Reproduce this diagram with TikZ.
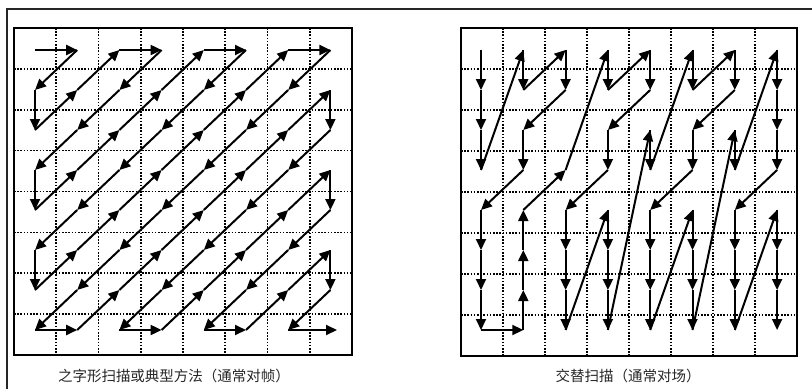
\documentclass[tikz,border=0pt]{standalone}
\usepackage{fontspec}
\newfontfamily\cjk{Noto Sans CJK SC}
\usetikzlibrary{arrows.meta}
\begin{document}
\begin{tikzpicture}[x=1pt,y=-1pt,
  frame/.style={draw=black!85, line width=1.2pt},
  gridbox/.style={draw=black, line width=2.6pt},
  dotline/.style={draw=black, line width=1.7pt, dash pattern=on 1.6pt off 1.6pt},
  scanarr/.style={draw=black, line width=2pt, line join=round, -{Triangle[length=11pt,width=10pt]}},
  caption/.style={font=\cjk\fontsize{14.5}{17}\selectfont, text=black!85, inner sep=0pt}]
\useasboundingbox (0,0) rectangle (812,389);
\draw[frame] (812,9) -- (7,9) -- (7,389);

% grids
\foreach \i in {1,...,7} {
  \draw[dotline] ({14+42.25*\i},28) -- ({14+42.25*\i},355);
  \draw[dotline] (14,{28+40.875*\i}) -- (352,{28+40.875*\i});
  \draw[dotline] ({461+42*\i},28) -- ({461+42*\i},356);
  \draw[dotline] (461,{28+41*\i}) -- (797,{28+41*\i});
}
\draw[gridbox] (14,28) rectangle (352,355);
\draw[gridbox] (461,28) rectangle (797,356);

% coefficient positions
\foreach \c in {0,...,7} {
  \foreach \r in {0,...,7} {
    \coordinate (L-\c-\r) at ({35+42.2*\c},{50+40*\r});
    \coordinate (R-\c-\r) at ({481+42.3*\c},{50+40*\r});
  }
}
\coordinate (Lend) at (337,330);

% zigzag scan
\foreach \p [remember=\p as \q (initially 0-0)] in
  {1-0,0-1,0-2,1-1,2-0,3-0,2-1,1-2,0-3,0-4,1-3,2-2,3-1,4-0,5-0,4-1,3-2,2-3,1-4,0-5,0-6,1-5,2-4,3-3,4-2,5-1,6-0,7-0,6-1,5-2,4-3,3-4,2-5,1-6,0-7,1-7,2-6,3-5,4-4,5-3,6-2,7-1,7-2,6-3,5-4,4-5,3-6,2-7,3-7,4-6,5-5,6-4,7-3,7-4,6-5,5-6,4-7,5-7,6-6,7-5,7-6,6-7}
  {\draw[scanarr] (L-\q) -- (L-\p);}
\draw[scanarr] (L-6-7) -- (Lend);

% alternate scan
\foreach \p [remember=\p as \q (initially 0-0)] in
  {0-1,0-2,0-3,1-0,1-1,2-0,2-1,1-2,1-3,0-4,0-5,0-6,0-7,1-7,1-6,1-5,1-4,2-3,3-0,3-1,4-0,4-1,3-2,3-3,2-4,2-5,2-6,2-7,3-4,3-5,3-6,3-7,4-2,4-3,5-0,5-1,6-0,6-1,5-2,5-3,4-4,4-5,4-6,4-7,5-4,5-5,5-6,5-7,6-2,6-3,7-0,7-1,7-2,7-3,6-4,6-5,6-6,6-7,7-4,7-5,7-6,7-7}
  {\draw[scanarr] (R-\q) -- (R-\p);}

\node[caption] (capL) at (174,376) {之字形扫描或典型方法（通常对帧）};
\node[caption] (capR) at (628,376) {交替扫描（通常对场）};
\end{tikzpicture}
\end{document}
